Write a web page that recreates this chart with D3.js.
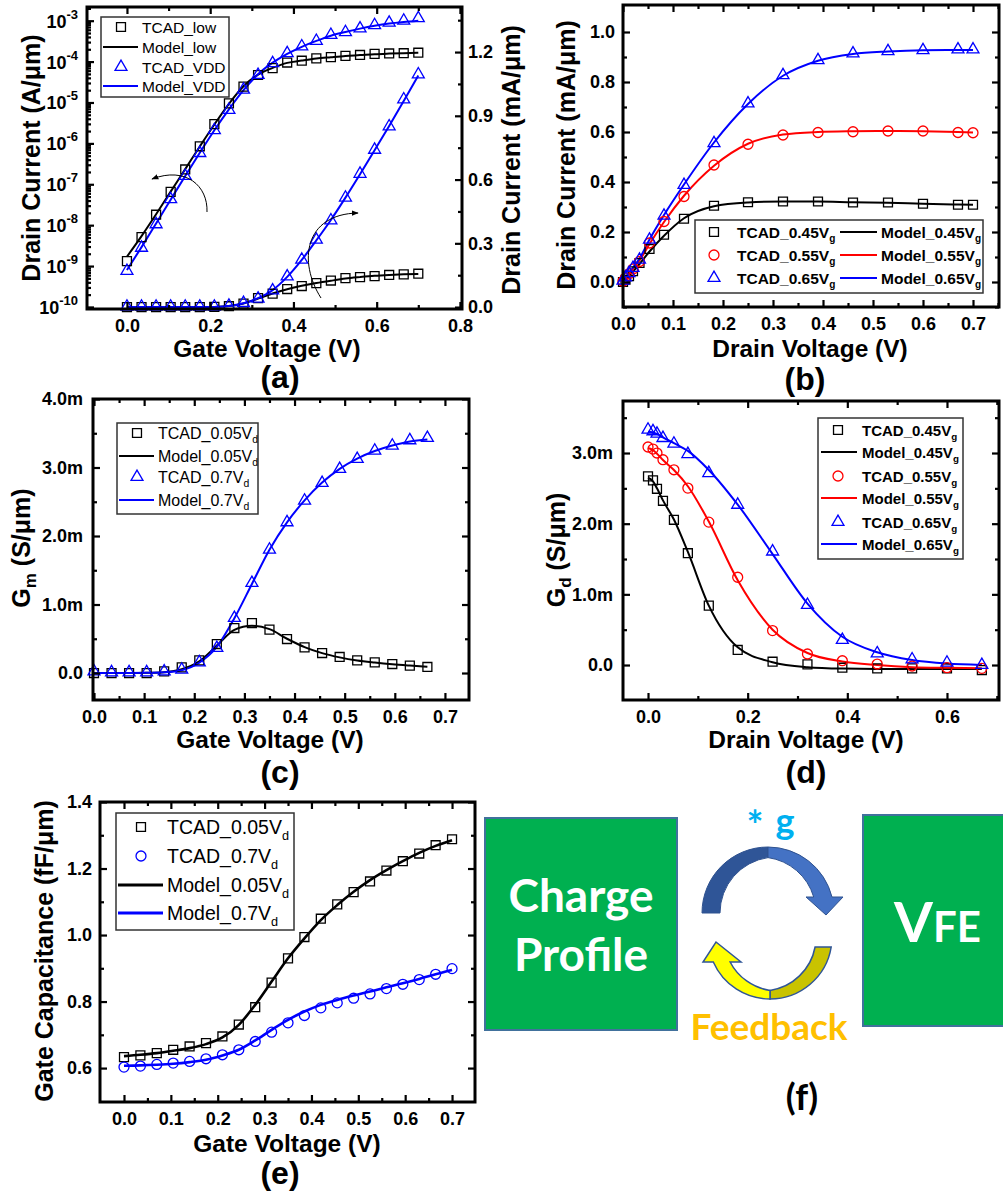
<!DOCTYPE html>
<html><head><meta charset="utf-8">
<script src="https://cdn.jsdelivr.net/npm/d3@7"></script>
<style>body{margin:0;background:#fff;} svg{display:block;}</style>
</head><body>
<script>
// ================= DATA =================
// (a) Id-Vg
const VG_A = [0,0.035,0.07,0.105,0.14,0.175,0.21,0.245,0.28,0.315,0.35,0.385,0.42,0.455,0.49,0.525,0.56,0.595,0.63,0.665,0.7];
const A_TCAD_LOW_LOG = [1.32e-9,5.1e-9,1.8e-8,6.5e-8,2.3e-7,8.5e-7,2.95e-6,9.5e-6,2.45e-5,4.7e-5,6.9e-5,9.5e-5,1.05e-4,1.2e-4,1.29e-4,1.38e-4,1.45e-4,1.55e-4,1.58e-4,1.6e-4,1.65e-4];
const A_MODEL_LOW_LOG = [1.7e-9,5.4e-9,1.85e-8,6.6e-8,2.35e-7,8.4e-7,2.9e-6,9.3e-6,2.5e-5,4.8e-5,7.0e-5,9.3e-5,1.06e-4,1.19e-4,1.28e-4,1.37e-4,1.44e-4,1.52e-4,1.57e-4,1.61e-4,1.64e-4];
const A_TCAD_VDD_LOG = [7.6e-10,2.8e-9,1.05e-8,4.3e-8,1.6e-7,5.8e-7,2.1e-6,6.6e-6,2.05e-5,4.7e-5,9.1e-5,1.6e-4,2.35e-4,3.2e-4,4.5e-4,5.25e-4,6.45e-4,7.8e-4,8.9e-4,1.0e-3,1.15e-3];
const A_MODEL_VDD_LOG = [8e-10,2.9e-9,1.1e-8,4.2e-8,1.6e-7,5.9e-7,2.1e-6,6.8e-6,2.0e-5,4.9e-5,9.4e-5,1.55e-4,2.3e-4,3.2e-4,4.3e-4,5.3e-4,6.4e-4,7.5e-4,8.5e-4,9.3e-4,1.0e-3];
const A_TCAD_LOW_LIN = [0,0,0,0,0,0,0.001,0.004,0.016,0.042,0.063,0.085,0.099,0.113,0.125,0.136,0.141,0.146,0.151,0.154,0.157];
const A_MODEL_LOW_LIN = [0,0,0,0,0,0,0.001,0.005,0.017,0.04,0.064,0.084,0.1,0.113,0.124,0.134,0.141,0.147,0.151,0.154,0.156];
const A_TCAD_VDD_LIN = [0.002,0.002,0.002,0.002,0.002,0.002,0.002,0.006,0.019,0.04,0.078,0.144,0.223,0.317,0.408,0.515,0.627,0.74,0.85,0.977,1.095];
const A_MODEL_VDD_LIN = [0,0,0,0,0,0,0.001,0.005,0.018,0.042,0.08,0.142,0.222,0.314,0.41,0.515,0.625,0.738,0.852,0.97,1.09];
const A_X_TICKS = [0,0.2,0.4,0.6,0.8];
const A_YL_TICKS = [1e-10,1e-9,1e-8,1e-7,1e-6,1e-5,1e-4,1e-3];
const A_YR_TICKS = [0,0.3,0.6,0.9,1.2];
const A_LEGEND = ["TCAD_low","Model_low","TCAD_VDD","Model_VDD"];

// (b) Id-Vd
const VD_B = [0,0.005,0.012,0.02,0.033,0.053,0.082,0.122,0.182,0.25,0.32,0.39,0.46,0.53,0.6,0.67,0.7];
const B_TCAD_045 = [0,0.009,0.023,0.043,0.076,0.132,0.189,0.253,0.305,0.319,0.322,0.322,0.318,0.318,0.313,0.309,0.309];
const B_TCAD_055 = [0.003,0.016,0.033,0.052,0.082,0.156,0.242,0.342,0.468,0.551,0.588,0.598,0.601,0.604,0.604,0.598,0.597];
const B_TCAD_065 = [0.005,0.018,0.035,0.056,0.089,0.169,0.265,0.388,0.555,0.714,0.827,0.887,0.914,0.923,0.927,0.93,0.93];
const B_MODEL_045 = [0,0.01,0.024,0.042,0.072,0.122,0.185,0.255,0.303,0.318,0.322,0.322,0.319,0.317,0.313,0.31,0.309];
const B_MODEL_055 = [0,0.015,0.033,0.053,0.086,0.152,0.24,0.345,0.465,0.553,0.59,0.6,0.603,0.604,0.603,0.6,0.598];
const B_MODEL_065 = [0,0.018,0.037,0.058,0.094,0.17,0.268,0.39,0.558,0.712,0.825,0.885,0.912,0.922,0.927,0.928,0.928];
const B_X_TICKS = [0,0.1,0.2,0.3,0.4,0.5,0.6,0.7];
const B_Y_TICKS = [0,0.2,0.4,0.6,0.8,1.0];

// (c) Gm
const VG_C = [0,0.035,0.07,0.105,0.14,0.175,0.21,0.245,0.28,0.315,0.35,0.385,0.42,0.455,0.49,0.525,0.56,0.595,0.63,0.665];
const C_TCAD_005 = [0,0,0,0,0.024,0.083,0.185,0.423,0.657,0.73,0.633,0.496,0.375,0.292,0.234,0.185,0.156,0.131,0.107,0.088];
const C_TCAD_07 = [0.024,0.01,0.01,0.01,0.024,0.049,0.156,0.365,0.803,1.314,1.8,2.2,2.516,2.774,2.978,3.124,3.246,3.319,3.397,3.431];
const C_MODEL_005 = [0,0,0,0.003,0.012,0.055,0.17,0.4,0.63,0.69,0.64,0.5,0.378,0.29,0.228,0.183,0.153,0.128,0.108,0.09];
const C_MODEL_07 = [0,0,0,0.002,0.01,0.04,0.15,0.38,0.8,1.3,1.8,2.2,2.52,2.78,2.98,3.13,3.24,3.32,3.38,3.41];
const C_X_TICKS = [0,0.1,0.2,0.3,0.4,0.5,0.6,0.7];
const C_Y_TICKS = [0,1,2,3,4];

// (d) Gd
const VD_D = [0,0.01,0.018,0.03,0.052,0.08,0.122,0.18,0.25,0.32,0.39,0.46,0.53,0.6,0.67];
const D_TCAD_045 = [2.669,2.612,2.494,2.324,2.055,1.582,0.841,0.213,0.047,0.009,-0.038,-0.047,-0.047,-0.047,-0.071];
const D_TCAD_055 = [3.085,3.056,3.0,2.905,2.763,2.504,2.022,1.242,0.487,0.156,0.061,0.014,-0.014,-0.038,-0.047];
const D_TCAD_065 = [3.33,3.307,3.273,3.212,3.132,2.985,2.716,2.267,1.606,0.85,0.354,0.165,0.08,0.033,0.0];
const D_MODEL_045 = [2.65,2.6,2.5,2.33,2.06,1.6,0.84,0.25,0.04,-0.03,-0.05,-0.055,-0.055,-0.055,-0.055];
const D_MODEL_055 = [3.07,3.04,2.99,2.9,2.76,2.53,2.03,1.2,0.5,0.17,0.05,0.0,-0.03,-0.04,-0.045];
const D_MODEL_065 = [3.3,3.29,3.27,3.22,3.14,3.03,2.76,2.27,1.57,0.87,0.4,0.18,0.07,0.02,0.0];
const D_X_TICKS = [0,0.2,0.4,0.6];
const D_Y_TICKS = [0,1,2,3];

// (e) Cg
const VG_E = [0,0.035,0.07,0.105,0.14,0.175,0.21,0.245,0.28,0.315,0.35,0.385,0.42,0.455,0.49,0.525,0.56,0.595,0.63,0.665,0.7];
const E_TCAD_005 = [0.633,0.638,0.645,0.655,0.665,0.675,0.695,0.731,0.783,0.857,0.93,0.994,1.049,1.092,1.129,1.161,1.194,1.222,1.245,1.27,1.288];
const E_TCAD_07 = [0.603,0.606,0.611,0.615,0.62,0.628,0.64,0.655,0.68,0.708,0.736,0.758,0.781,0.796,0.81,0.823,0.839,0.852,0.866,0.882,0.899];
const E_MODEL_005 = [0.636,0.64,0.645,0.652,0.66,0.672,0.692,0.73,0.79,0.86,0.93,0.99,1.045,1.09,1.13,1.165,1.195,1.222,1.247,1.268,1.285];
const E_MODEL_07 = [0.607,0.608,0.61,0.613,0.618,0.625,0.638,0.655,0.683,0.715,0.745,0.77,0.79,0.805,0.818,0.83,0.843,0.855,0.868,0.882,0.895];
const E_X_TICKS = [0,0.1,0.2,0.3,0.4,0.5,0.6,0.7];
const E_Y_TICKS = [0.6,0.8,1.0,1.2,1.4];

// ================= DRAWING =================
const FONT = "'Liberation Sans', Arial, Helvetica, sans-serif";
const FONT_F = "Lato, 'Open Sans', sans-serif";
const BLUE = "#0000FF", RED = "#FF0000", BLACK = "#000000";
const svg = d3.select("body").append("svg").attr("width",1003).attr("height",1195).style("background","#fff");

const SYM = {sq: d3.symbolSquare, ci: d3.symbolCircle, tri: d3.symbolTriangle};
const SYMSIZE = {sq: 80, ci: 78, tri: 62};

function makePanel(b, xDom, yDom, log) {
  const x = d3.scaleLinear().domain(xDom).range([b.l, b.r]);
  const y = (log ? d3.scaleLog() : d3.scaleLinear()).domain(yDom).range([b.b, b.t]);
  const g = svg.append("g");
  return {b, x, y, g};
}
function styleAxis(sel) {
  sel.select(".domain").remove();
  sel.selectAll(".tick line").attr("stroke","#000").attr("stroke-width",2.2);
  sel.attr("font-family",FONT).attr("font-size",18).attr("font-weight","bold");
  sel.selectAll(".tick text").attr("fill","#000");
}
function xTicks(p, major, minor, fmt) {
  const {b,x,g} = p;
  g.append("g").attr("transform",`translate(0,${b.b})`).call(d3.axisBottom(x).tickValues(major).tickSize(-7).tickPadding(10).tickFormat(fmt)).call(styleAxis);
  g.append("g").attr("transform",`translate(0,${b.b})`).call(d3.axisBottom(x).tickValues(minor).tickSize(-4).tickFormat("")).call(styleAxis);
  g.append("g").attr("transform",`translate(0,${b.t})`).call(d3.axisTop(x).tickValues(major).tickSize(-7).tickFormat("")).call(styleAxis);
  g.append("g").attr("transform",`translate(0,${b.t})`).call(d3.axisTop(x).tickValues(minor).tickSize(-4).tickFormat("")).call(styleAxis);
}
function yTicks(p, scale, major, minor, fmt, side, pad) {
  const {b,g} = p;
  const xpos = side === "left" ? b.l : b.r;
  const mk = side === "left" ? d3.axisLeft : d3.axisRight;
  const ax = g.append("g").attr("transform",`translate(${xpos},0)`).call(mk(scale).tickValues(major).tickSize(-7).tickPadding(pad).tickFormat(fmt || "")).call(styleAxis);
  g.append("g").attr("transform",`translate(${xpos},0)`).call(mk(scale).tickValues(minor).tickSize(-4).tickFormat("")).call(styleAxis);
  return ax;
}
function frame(p) {
  const {b,g} = p;
  g.append("rect").attr("x",b.l).attr("y",b.t).attr("width",b.r-b.l).attr("height",b.b-b.t)
    .attr("fill","none").attr("stroke","#000").attr("stroke-width",3);
}
function series(p, xs, ys, color, width, yScale) {
  const ysc = yScale || p.y;
  const line = d3.line().x(d => p.x(d[0])).y(d => ysc(d[1])).curve(d3.curveMonotoneX);
  p.g.append("path").datum(xs.map((v,i)=>[v,ys[i]])).attr("d",line)
    .attr("fill","none").attr("stroke",color).attr("stroke-width",width);
}
function markers(p, xs, ys, shape, color, yScale) {
  const ysc = yScale || p.y;
  const sym = d3.symbol().type(SYM[shape]).size(SYMSIZE[shape]);
  p.g.append("g").selectAll("path").data(xs.map((v,i)=>[v,ys[i]])).join("path")
    .attr("transform", d => `translate(${p.x(d[0])},${ysc(d[1])})`)
    .attr("d", sym).attr("fill","none").attr("stroke",color).attr("stroke-width",1.3);
}
function addText(g, x, y, main, sub, size, weight, anchor, fill, family) {
  const t = g.append("text").attr("x",x).attr("y",y).attr("font-family",family||FONT)
    .attr("font-size",size).attr("font-weight",weight).attr("text-anchor",anchor||"start").attr("fill",fill||"#000");
  t.append("tspan").text(main);
  if (sub) t.append("tspan").attr("font-size",size*0.65).attr("dy",size*0.3).text(sub);
  return t;
}
function legendBox(g, x, y, w, h) {
  g.append("rect").attr("x",x).attr("y",y).attr("width",w).attr("height",h)
    .attr("fill","#fff").attr("stroke","#333").attr("stroke-width",1.5);
}
function legSym(g, cx, cy, shape, color) {
  g.append("path").attr("transform",`translate(${cx},${cy})`).attr("d",d3.symbol().type(SYM[shape]).size(SYMSIZE[shape])())
    .attr("fill","none").attr("stroke",color).attr("stroke-width",1.3);
}
function legLine(g, x1, x2, cy, color, w) {
  g.append("line").attr("x1",x1).attr("x2",x2).attr("y1",cy).attr("y2",cy).attr("stroke",color).attr("stroke-width",w);
}
function xLabel(cx, base, txt) {
  addText(svg, cx, base, txt, null, 24.5, "bold", "middle");
}
function yLabel(bx, cy, parts) {
  const t = svg.append("text").attr("transform",`translate(${bx},${cy}) rotate(-90)`).attr("text-anchor","middle")
    .attr("font-family",FONT).attr("font-size",25).attr("font-weight","bold").attr("fill","#000");
  parts.forEach(pt => {
    const s = t.append("tspan").text(pt.t);
    if (pt.size) s.attr("font-size",pt.size);
    if (pt.dy) s.attr("dy",pt.dy);
  });
}
function panelTag(cx, base, txt, size, family) {
  addText(svg, cx, base, txt, null, size || 32, "bold", "middle", "#000", family);
}
const f1 = d3.format(".1f");
const fm = v => v === 0 ? "0.0" : f1(v) + "m";

// ---------- Panel (a) ----------
{
  const p = makePanel({l:87, r:462, t:7, b:309}, [-0.096, 0.805], [Math.pow(10,-10.05), Math.pow(10,-2.665)], true);
  const yR = d3.scaleLinear().domain([-0.009, 1.412]).range([p.b.b, p.b.t]);
  series(p, VG_A, A_MODEL_LOW_LOG, BLACK, 2);
  series(p, VG_A, A_MODEL_VDD_LOG, BLUE, 2);
  series(p, VG_A, A_MODEL_LOW_LIN, BLACK, 2, yR);
  series(p, VG_A, A_MODEL_VDD_LIN, BLUE, 2, yR);
  markers(p, VG_A, A_TCAD_LOW_LOG, "sq", BLACK);
  markers(p, VG_A, A_TCAD_VDD_LOG, "tri", BLUE);
  markers(p, VG_A, A_TCAD_LOW_LIN, "sq", BLACK, yR);
  markers(p, VG_A, A_TCAD_VDD_LIN, "tri", BLUE, yR);
  // curved indicator arrows
  svg.append("defs").append("marker").attr("id","ah").attr("viewBox","0 0 10 10").attr("refX",9).attr("refY",5)
    .attr("markerWidth",7).attr("markerHeight",7).attr("orient","auto")
    .append("path").attr("d","M0,1 L10,5 L0,9 Z").attr("fill","#000");
  p.g.append("path").attr("d","M207,212 C208,186 186,166 152,179").attr("fill","none").attr("stroke","#000").attr("stroke-width",1).attr("marker-end","url(#ah)");
  p.g.append("path").attr("d","M321,298 C298,262 304,214 358,213").attr("fill","none").attr("stroke","#000").attr("stroke-width",1).attr("marker-end","url(#ah)");
  // legend
  legendBox(p.g, 101, 17, 128, 80);
  const rows = [27, 47, 67, 86];
  legSym(p.g, 121, rows[0], "sq", BLACK);
  legLine(p.g, 103, 138, rows[1], BLACK, 2);
  legSym(p.g, 121, rows[2], "tri", BLUE);
  legLine(p.g, 103, 138, rows[3], BLUE, 2);
  A_LEGEND.forEach((t,i) => addText(p.g, 142, rows[i] + 5.5, t, null, 15.5, "normal"));
  frame(p);
  xTicks(p, A_X_TICKS, [0.1,0.3,0.5,0.7], f1);
  const minorLog = [];
  for (let k = -10; k <= -3; k++) for (let m = 2; m <= 9; m++) { const v = m * Math.pow(10,k); if (v < Math.pow(10,-2.665)) minorLog.push(v); }
  yTicks(p, p.y, A_YL_TICKS, minorLog, "", "left", 9);
  A_YL_TICKS.forEach(v => {
    const t = p.g.append("text").attr("x", p.b.l - 9).attr("y", p.y(v) + 7).attr("text-anchor","end")
      .attr("font-family",FONT).attr("font-size",18).attr("font-weight","bold").attr("fill","#000");
    t.append("tspan").text("10");
    t.append("tspan").attr("font-size",13).attr("dy",-9).text(String(Math.round(Math.log10(v))));
  });
  yTicks(p, yR, A_YR_TICKS, [0.15,0.45,0.75,1.05,1.35], f1, "right", 6);
  xLabel(267, 357, "Gate Voltage (V)");
  yLabel(40, 158, [{t:"Drain Current (A/μm)"}]);
  yLabel(520, 160, [{t:"Drain Current (mA/μm)"}]);
  panelTag(280, 388, "(a)");
}

// ---------- Panel (b) ----------
{
  const p = makePanel({l:623, r:999, t:5, b:307}, [0, 0.752], [-0.1, 1.108]);
  series(p, VD_B, B_MODEL_045, BLACK, 2);
  series(p, VD_B, B_MODEL_055, RED, 2);
  series(p, VD_B, B_MODEL_065, BLUE, 2);
  markers(p, VD_B, B_TCAD_045, "sq", BLACK);
  markers(p, VD_B, B_TCAD_055, "ci", RED);
  markers(p, VD_B, B_TCAD_065, "tri", BLUE);
  legendBox(p.g, 695, 220, 288, 73);
  const rows = [232, 255, 278];
  const shapes = ["sq","ci","tri"], cols = [BLACK, RED, BLUE], vg = ["0.45","0.55","0.65"];
  rows.forEach((ry,i) => {
    legSym(p.g, 714, ry, shapes[i], cols[i]);
    addText(p.g, 737, ry + 5.5, "TCAD_" + vg[i] + "V", "g", 15.5, "bold");
    legLine(p.g, 840, 877, ry, cols[i], 2);
    addText(p.g, 881, ry + 5.5, "Model_" + vg[i] + "V", "g", 15.5, "bold");
  });
  frame(p);
  xTicks(p, B_X_TICKS, [0.05,0.15,0.25,0.35,0.45,0.55,0.65,0.75], f1);
  yTicks(p, p.y, B_Y_TICKS, [-0.1,0.1,0.3,0.5,0.7,0.9], f1, "left", 8);
  yTicks(p, p.y, B_Y_TICKS, [-0.1,0.1,0.3,0.5,0.7,0.9], "", "right", 8);
  xLabel(810, 357, "Drain Voltage (V)");
  yLabel(575, 155, [{t:"Drain Current (mA/μm)"}]);
  panelTag(805, 390, "(b)");
}

// ---------- Panel (c) ----------
{
  const p = makePanel({l:93, r:469, t:399, b:700}, [-0.002, 0.748], [-0.394, 4.0]);
  series(p, VG_C, C_MODEL_005, BLACK, 2);
  series(p, VG_C, C_MODEL_07, BLUE, 2);
  markers(p, VG_C, C_TCAD_005, "sq", BLACK);
  markers(p, VG_C, C_TCAD_07, "tri", BLUE);
  legendBox(p.g, 117, 423, 141, 91);
  const rows = [433, 456, 477, 500];
  legSym(p.g, 137, rows[0], "sq", BLACK);
  legLine(p.g, 119, 154, rows[1], BLACK, 2);
  legSym(p.g, 137, rows[2], "tri", BLUE);
  legLine(p.g, 119, 154, rows[3], BLUE, 2);
  const txt = [["TCAD_0.05V","d"],["Model_0.05V","d"],["TCAD_0.7V","d"],["Model_0.7V","d"]];
  txt.forEach((t,i) => addText(p.g, 158, rows[i] + 5.5, t[0], t[1], 16, "normal"));
  frame(p);
  xTicks(p, C_X_TICKS, [0.05,0.15,0.25,0.35,0.45,0.55,0.65], f1);
  yTicks(p, p.y, C_Y_TICKS, [0.5,1.5,2.5,3.5], fm, "left", 10);
  yTicks(p, p.y, C_Y_TICKS, [0.5,1.5,2.5,3.5], "", "right", 10);
  xLabel(270, 748, "Gate Voltage (V)");
  yLabel(30, 548, [{t:"G"},{t:"m",size:17,dy:6},{t:" (S/μm)",size:25,dy:-6}]);
  panelTag(280, 783, "(c)");
}

// ---------- Panel (d) ----------
{
  const p = makePanel({l:623, r:999, t:401, b:700}, [-0.0502, 0.7044], [-0.495, 3.736]);
  series(p, VD_D, D_MODEL_045, BLACK, 2);
  series(p, VD_D, D_MODEL_055, RED, 2);
  series(p, VD_D, D_MODEL_065, BLUE, 2);
  markers(p, VD_D, D_TCAD_045, "sq", BLACK);
  markers(p, VD_D, D_TCAD_055, "ci", RED);
  markers(p, VD_D, D_TCAD_065, "tri", BLUE);
  legendBox(p.g, 818, 418, 145, 141);
  const rows = [430, 452, 476, 498, 522, 544];
  const shapes = ["sq","ci","tri"], cols = [BLACK, RED, BLUE], vg = ["0.45","0.55","0.65"];
  vg.forEach((v,i) => {
    legSym(p.g, 838, rows[2*i], shapes[i], cols[i]);
    addText(p.g, 862, rows[2*i] + 5.5, "TCAD_" + v + "V", "g", 15, "bold");
    legLine(p.g, 821, 857, rows[2*i+1], cols[i], 2);
    addText(p.g, 862, rows[2*i+1] + 5.5, "Model_" + v + "V", "g", 15, "bold");
  });
  frame(p);
  xTicks(p, D_X_TICKS, [0.1,0.3,0.5,0.7], f1);
  yTicks(p, p.y, D_Y_TICKS, [0.5,1.5,2.5,3.5], fm, "left", 10);
  yTicks(p, p.y, D_Y_TICKS, [0.5,1.5,2.5,3.5], "", "right", 10);
  xLabel(806, 748, "Drain Voltage (V)");
  yLabel(565, 550, [{t:"G"},{t:"d",size:17,dy:6},{t:" (S/μm)",size:25,dy:-6}]);
  panelTag(806, 783, "(d)");
}

// ---------- Panel (e) ----------
{
  const p = makePanel({l:100, r:475, t:802, b:1102}, [-0.0512, 0.749], [0.498, 1.4]);
  series(p, VG_E, E_MODEL_005, BLACK, 2.6);
  series(p, VG_E, E_MODEL_07, BLUE, 2.6);
  markers(p, VG_E, E_TCAD_005, "sq", BLACK);
  markers(p, VG_E, E_TCAD_07, "ci", BLUE);
  legendBox(p.g, 116, 813, 178, 117);
  const rows = [827, 856, 885, 913];
  legSym(p.g, 141, rows[0], "sq", BLACK);
  legSym(p.g, 141, rows[1], "ci", BLUE);
  legLine(p.g, 118, 163, rows[2], BLACK, 3);
  legLine(p.g, 118, 163, rows[3], BLUE, 3);
  const txt = [["TCAD_0.05V","d"],["TCAD_0.7V","d"],["Model_0.05V","d"],["Model_0.7V","d"]];
  txt.forEach((t,i) => addText(p.g, 167, rows[i] + 7, t[0], t[1], 19.5, "normal"));
  frame(p);
  xTicks(p, E_X_TICKS, [0.05,0.15,0.25,0.35,0.45,0.55,0.65], f1);
  yTicks(p, p.y, E_Y_TICKS, [0.7,0.9,1.1,1.3], f1, "left", 8);
  yTicks(p, p.y, E_Y_TICKS, [0.7,0.9,1.1,1.3], "", "right", 8);
  xLabel(287, 1152, "Gate Voltage (V)");
  yLabel(53, 951, [{t:"Gate Capacitance (fF/μm)"}]);
  panelTag(280, 1184, "(e)");
}

// ---------- Panel (f) diagram ----------
{
  const g = svg.append("g");
  g.append("rect").attr("x",485).attr("y",818).attr("width",192).attr("height",212)
    .attr("fill","#00B050").attr("stroke","#41719C").attr("stroke-width",2);
  g.append("rect").attr("x",863).attr("y",815).attr("width",150).attr("height",211)
    .attr("fill","#00B050").attr("stroke","#41719C").attr("stroke-width",2);
  addText(g, 581, 912, "Charge", null, 46, "bold", "middle", "#fff", FONT_F);
  addText(g, 581, 971, "Profile", null, 46, "bold", "middle", "#fff", FONT_F);
  const v = g.append("text").attr("x",894).attr("y",942).attr("font-family",FONT_F).attr("font-weight","bold").attr("fill","#fff");
  v.append("tspan").attr("font-size",56).text("V");
  v.append("tspan").attr("font-size",42).text("FE");
  // upper (blue) curved arrow
  const cx = 768, cy = 913, ro = 66, ri = 56;
  g.append("path").attr("d",`M${cx-ro},${cy} A${ro},${ro} 0 0 1 ${cx},${cy-ro} L${cx},857.6 A${ri},${ri} 0 0 0 ${cx-48},${cy} Z`)
    .attr("fill","#2F5597").attr("stroke","#2F528F").attr("stroke-width",1);
  g.append("path").attr("d",`M${cx},${cy-ro} A${ro},${ro} 0 0 1 832,897 L843,897 L826,915 L806,897 L813.7,897 A${ri},${ri} 0 0 0 ${cx},857.6 Z`)
    .attr("fill","#4472C4").attr("stroke","#2F528F").attr("stroke-width",1);
  // lower (yellow) curved arrow
  g.append("path").attr("d","M815.1,947 L831.2,947 A62,62 0 0 1 770,999 L770,990.4 A54,54 0 0 0 815.1,947 Z")
    .attr("fill","#C9C300").attr("stroke","#2F5597").attr("stroke-width",1.5);
  g.append("path").attr("d","M770,999 A62,62 0 0 1 713.3,962 L703,962 L716,942 L741,962 L730.1,962 A54,54 0 0 0 770,990.4 Z")
    .attr("fill","#FFFF00").attr("stroke","#2F5597").attr("stroke-width",1.5);
  addText(g, 755, 840, "*", null, 40, "bold", "middle", "#00B0F0", FONT_F);
  addText(g, 785, 834, "g", null, 36, "bold", "middle", "#00B0F0", FONT_F);
  addText(g, 769, 1040, "Feedback", null, 37, "bold", "middle", "#FFC000", FONT_F);
  panelTag(802, 1110, "(f)", 36, FONT_F);
}
</script>
</body></html>
